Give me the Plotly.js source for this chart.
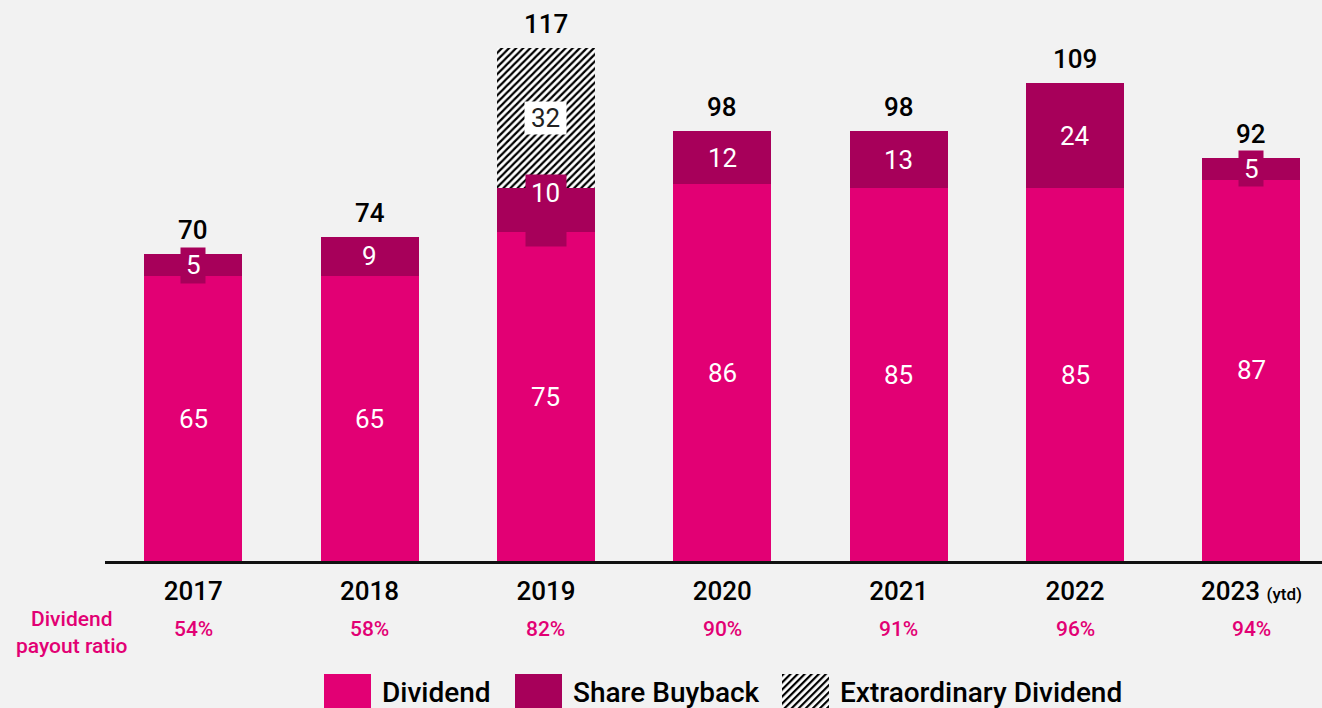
<!DOCTYPE html>
<html>
<head>
<meta charset="utf-8">
<script src="https://cdn.plot.ly/plotly-3.0.1.min.js"></script>
<style>
    html, body { margin: 0; padding: 0; background: #f2f2f2; }
    #chart { width: 1322px; height: 708px; }
</style>
</head>
<body>
<div id="chart"></div>
<script>
const years = ['2017', '2018', '2019', '2020', '2021', '2022', '2023'];
const yearLabels = ['2017', '2018', '2019', '2020', '2021', '2022',
    '2023 <span style="font-size:17px">(ytd)</span>'];
const dividend = [65, 65, 75, 86, 85, 85, 87];
const buyback = [5, 9, 10, 12, 13, 24, 5];
const extraordinary = [null, null, 32, null, null, null, null];
const payoutRatio = ['54%', '58%', '82%', '90%', '91%', '96%', '94%'];

const legendItems = ['Dividend', 'Share Buyback', 'Extraordinary Dividend'];

const MAGENTA = '#e20074';
const DARK = '#a7005a';
const FONT = 'Roboto, "Open Sans", sans-serif';

// plot area in pixels, used to place the decorations below the axis
const PLOT_L = 105, PLOT_W = 1217, PLOT_T = 35, PLOT_H = 526;
const px = x => (x - PLOT_L) / PLOT_W;
const py = y => (PLOT_T + PLOT_H - y) / PLOT_H;

const totals = years.map((_, i) => dividend[i] + buyback[i] + (extraordinary[i] || 0));

// category axis: use the index so '2017' is not read as position 2017
const xIdx = years.map((_, i) => i);

const traces = [
    {
        x: years, y: dividend, type: 'bar', name: 'Dividend',
        marker: { color: MAGENTA, line: { width: 0 } },
        hoverinfo: 'skip', showlegend: false
    },
    {
        x: years, y: buyback, type: 'bar', name: 'Share Buyback',
        marker: { color: DARK, line: { width: 0 } },
        hoverinfo: 'skip', showlegend: false
    },
    {
        x: years, y: extraordinary, type: 'bar', name: 'Extraordinary Dividend',
        marker: {
            color: '#ffffff',
            line: { width: 0 },
            pattern: { shape: '/', bgcolor: '#ffffff', fgcolor: '#000000', size: 5, solidity: 0.45 }
        },
        hoverinfo: 'skip', showlegend: false
    }
];

const annotations = [];

years.forEach((yr, i) => {
    const x = xIdx[i];
    // total above the bar
    annotations.push({
        x: x, y: totals[i], xref: 'x', yref: 'y',
        text: String(totals[i]), showarrow: false,
        yanchor: 'middle', yshift: 24,
        font: { family: FONT, size: 26, color: '#000', weight: 500 }
    });
    // dividend value
    annotations.push({
        x: x, y: dividend[i] / 2, xref: 'x', yref: 'y',
        text: String(dividend[i]), showarrow: false,
        font: { family: FONT, size: 26, color: '#fff' }
    });
    // buyback value, small segments get a box that sticks out of the bar
    const small = buyback[i] < 11;
    const tall = extraordinary[i] != null;
    if (small) {
        annotations.push({
            x: x, y: dividend[i] + buyback[i] / 2, xref: 'x', yref: 'y',
            text: '&nbsp;', showarrow: false,
            bgcolor: DARK, borderpad: 0,
            width: buyback[i] >= 10 ? 40 : 24,
            height: tall ? 71 : 35
        });
    }
    annotations.push({
        x: x, y: dividend[i] + buyback[i] / 2, xref: 'x', yref: 'y',
        text: String(buyback[i]), showarrow: false,
        yshift: tall ? 17 : 0,
        font: { family: FONT, size: 26, color: '#fff' }
    });
    if (extraordinary[i] != null) {
        annotations.push({
            x: x, y: dividend[i] + buyback[i] + extraordinary[i] / 2, xref: 'x', yref: 'y',
            text: String(extraordinary[i]), showarrow: false,
            bgcolor: '#ffffff', borderpad: 0, width: 41, height: 32,
            font: { family: FONT, size: 26, color: '#222' }
        });
    }
    // payout ratio row
    annotations.push({
        x: x, y: py(629), xref: 'x', yref: 'paper',
        xanchor: 'center', yanchor: 'middle',
        text: payoutRatio[i], showarrow: false,
        font: { family: FONT, size: 21, color: MAGENTA, weight: 500 }
    });
});

annotations.push({
    x: px(72), y: py(632), xref: 'paper', yref: 'paper',
    xanchor: 'center', yanchor: 'middle',
    text: 'Dividend<br>payout ratio', showarrow: false, align: 'center',
    font: { family: FONT, size: 21, color: MAGENTA, weight: 500 }
});

// custom legend with large swatches
const legendSwatchX = [324, 515, 782];
const legendTextX = [380, 571, 838];
const shapes = [];
[MAGENTA, DARK].forEach((c, i) => {
    shapes.push({
        type: 'rect', xref: 'paper', yref: 'paper', layer: 'above',
        x0: px(legendSwatchX[i]), x1: px(legendSwatchX[i] + 47),
        y0: py(712), y1: py(674),
        fillcolor: c, line: { width: 0 }
    });
});
legendItems.forEach((name, i) => {
    annotations.push({
        x: px(legendTextX[i]), y: py(692), xref: 'paper', yref: 'paper',
        xanchor: 'left', yanchor: 'middle', showarrow: false,
        text: name,
        font: { family: FONT, size: 28, color: '#000', weight: 500 }
    });
});

const hatchSvg = "<svg xmlns='http://www.w3.org/2000/svg' width='47' height='36'>" +
    "<defs><pattern id='p' width='5' height='5' patternUnits='userSpaceOnUse' patternTransform='rotate(45)'>" +
    "<rect width='5' height='5' fill='white'/><rect width='2.2' height='5' fill='black'/></pattern></defs>" +
    "<rect width='47' height='36' fill='url(#p)'/></svg>";

const layout = {
    width: 1322,
    height: 708,
    paper_bgcolor: '#f2f2f2',
    plot_bgcolor: '#f2f2f2',
    margin: { l: PLOT_L, r: 0, t: PLOT_T, b: 708 - PLOT_T - PLOT_H },
    barmode: 'stack',
    bargap: 0.444,
    showlegend: false,
    xaxis: {
        type: 'category',
        range: [-0.5, 6.4],
        tickvals: years,
        ticktext: yearLabels,
        tickfont: { family: FONT, size: 26, color: '#000', weight: 500 },
        showline: true, linecolor: '#111', linewidth: 3,
        showgrid: false, zeroline: false, ticks: '',
        ticklabelstandoff: 5
    },
    yaxis: {
        range: [0, 120],
        visible: false,
        showgrid: false, zeroline: false
    },
    annotations: annotations,
    shapes: shapes,
    images: [{
        source: 'data:image/svg+xml;charset=utf-8,' + encodeURIComponent(hatchSvg),
        xref: 'paper', yref: 'paper',
        x: px(782), y: py(674),
        sizex: 47 / PLOT_W, sizey: 36 / PLOT_H,
        xanchor: 'left', yanchor: 'top',
        sizing: 'stretch', layer: 'above'
    }]
};

Plotly.newPlot('chart', traces, layout, { displayModeBar: false, staticPlot: true });
</script>
</body>
</html>
